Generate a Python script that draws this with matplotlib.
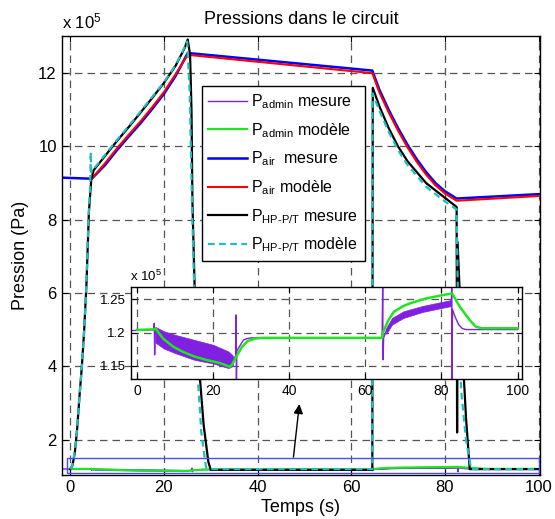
import matplotlib
matplotlib.use("Agg")
import matplotlib.pyplot as plt
from matplotlib.patches import Rectangle

plt.rcParams["font.family"] = ["Liberation Sans", "DejaVu Sans"]
plt.rcParams["mathtext.fontset"] = "custom"
plt.rcParams["mathtext.rm"] = "Liberation Sans"
plt.rcParams["mathtext.it"] = "Liberation Sans"

# --- values (pressures in 1e5 Pa, time in s) ---
t_adm_mes = [-1.7, 4.4, 4.5, 4.6, 4.7, 4.8, 25.2, 25.9, 26.0, 26.1, 26.2, 27, 28, 29, 30,
             64.4, 64.55, 64.65, 64.8, 65.5, 67, 70, 75, 80, 82.6, 82.7, 82.8, 82.9,
             83.5, 84.5, 85.5, 86.5, 100]
p_adm_mes = [1.203, 1.204, 1.214, 1.1665, 1.206, 1.198, 1.158, 1.165, 1.2265, 1.13, 1.172, 1.18,
             1.189, 1.191, 1.192, 1.192, 1.27, 1.159, 1.192, 1.203, 1.217, 1.227, 1.2355, 1.2415,
             1.2445, 1.27, 1.13, 1.235, 1.225, 1.212, 1.206, 1.2045, 1.2045]

# noisy parts of the measured admission pressure (envelope of the band)
t_band1 = [4.8, 7, 10, 15, 20, 24, 25.2]
lo_band1 = [1.185, 1.176, 1.169, 1.159, 1.1535, 1.1465, 1.150]
hi_band1 = [1.2085, 1.202, 1.1965, 1.189, 1.1815, 1.1715, 1.165]
t_band2 = [65.5, 67, 70, 75, 80, 82.6]
lo_band2 = [1.198, 1.212, 1.222, 1.231, 1.237, 1.240]
hi_band2 = [1.207, 1.222, 1.232, 1.240, 1.246, 1.249]

t_adm_mod = [0, 5.0, 6, 7, 9.4, 12, 15, 18, 21.8, 24.3, 25.0, 26, 27.5, 29, 31, 33,
             64.4, 64.6, 66, 67.5, 70, 72, 76, 80.5, 82.8, 84.8, 87.4, 89, 90.5, 100]
p_adm_mod = [1.204, 1.205, 1.197, 1.19, 1.179, 1.171, 1.164, 1.159, 1.154, 1.1485, 1.152,
             1.163, 1.178, 1.187, 1.191, 1.192, 1.192, 1.2, 1.218, 1.2315, 1.24, 1.2445,
             1.2515, 1.2565, 1.259, 1.239, 1.219, 1.209, 1.2065, 1.2065]

t_air = [-1.8, 4.6, 7.5, 10, 12.5, 15, 17.5, 20, 22.5, 25.1, 64.5, 66, 68, 70, 72, 74, 76,
         78, 80, 82.5, 100]
p_air_mes = [9.15, 9.12, 9.5, 9.9, 10.27, 10.63, 11.02, 11.43, 11.92, 12.55, 12.07, 11.55,
             11.0, 10.5, 10.05, 9.65, 9.3, 9.0, 8.78, 8.58, 8.7]
t_air_mod = [4.6, 7.5, 10, 12.5, 15, 17.5, 20, 22.5, 25.1, 64.5, 66, 68, 70, 72, 74, 76,
             78, 80, 82.5, 100]
p_air_mod = [9.12, 9.55, 9.95, 10.32, 10.68, 11.07, 11.48, 11.97, 12.5, 12.0, 11.48, 10.93,
             10.43, 9.98, 9.58, 9.23, 8.94, 8.72, 8.52, 8.65]

t_hp_mes = [0, 0.5, 1.0, 1.5, 2.0, 2.5, 3.0, 3.5, 4.0, 4.5, 5.0, 7.5, 10, 12.5, 15, 17.5, 20,
            22.5, 24.5, 25.1, 25.6, 25.9, 26.1, 26.6, 27.5, 28.5, 29.5, 30.0, 64.5, 64.6,
            66, 68, 70, 72, 74, 76, 78, 80, 82.5, 82.6, 82.7, 83.5, 84.5, 85.3, 100]
p_hp_mes = [1.2, 1.3, 1.65, 2.3, 3.2, 4.0, 5.0, 6.3, 8.2, 9.1, 9.35, 9.75, 10.15, 10.53, 10.92,
            11.32, 11.73, 12.2, 12.7, 12.92, 12.5, 11.0, 8.5, 6.0, 4.0, 2.4, 1.4, 1.18,
            1.18, 11.6, 11.1, 10.5, 10.0, 9.6, 9.3, 9.0, 8.8, 8.6, 8.35, 2.2, 7.4, 5.0, 2.6,
            1.2, 1.2]

t_hp_mod = [0, 0.5, 1.0, 1.3, 2.0, 2.5, 3.0, 3.4, 3.9, 4.3, 4.4, 4.5, 5.0, 7.5, 10, 12.5, 15,
            17.5, 20, 22.5, 24.5, 25.0, 25.5, 26.0, 26.5, 27.2, 28.0, 29.0, 30.0, 64.5, 64.55,
            66, 68, 70, 72, 74, 76, 78, 80, 82.5, 82.7, 83.0, 83.5, 84.5, 85.6, 100]
p_hp_mod = [1.2, 1.3, 1.7, 2.0, 3.2, 4.0, 5.0, 6.0, 8.0, 9.0, 9.85, 9.3, 9.38, 9.78, 10.18,
            10.56, 10.95, 11.35, 11.75, 12.22, 12.72, 12.86, 11.5, 8.5, 6.0, 3.8, 2.2, 1.25,
            1.2, 1.2, 11.45, 10.98, 10.4, 9.9, 9.5, 9.2, 8.9, 8.7, 8.5, 8.28, 6.5, 4.6, 3.3,
            2.0, 1.2, 1.2]

zoom_box = (-0.7, 1.10, 100.0, 1.49)     # x0, y0, x1, y1 of the blue frame
arrow_tail = (47.6, 1.45)
arrow_head = (49.0, 3.05)

C_ADM_MES = "#8020E0"
C_ADM_MOD = "#1EE61E"
C_AIR_MES = "#0000FF"
C_AIR_MOD = "#FF0000"
C_HP_MES = "#000000"
C_HP_MOD = "#1FBFBF"

SCALE = 1e5


def scaled(vals):
    return [v * SCALE for v in vals]


def style_axes(ax, size):
    ax.tick_params(direction="in", top=True, right=True, labelsize=size, length=4, width=0.8)
    ax.grid(True, color="#555555", linestyle=(0, (6, 4)), linewidth=0.9)
    ax.set_axisbelow(True)
    for s in ax.spines.values():
        s.set_linewidth(1.0)


def draw_admission(ax, lw_mod):
    ax.fill_between(t_band1, scaled(lo_band1), scaled(hi_band1), color=C_ADM_MES, lw=0.5)
    ax.fill_between(t_band2, scaled(lo_band2), scaled(hi_band2), color=C_ADM_MES, lw=0.5)
    ax.plot(t_adm_mes, scaled(p_adm_mes), color=C_ADM_MES, lw=1.0,
            label=r"$\mathregular{P_{admin}}$ mesure")
    ax.plot(t_adm_mod, scaled(p_adm_mod), color=C_ADM_MOD, lw=lw_mod,
            label=r"$\mathregular{P_{admin}}$ modèle")


fig = plt.figure(figsize=(5.55, 5.19), dpi=100)
ax = fig.add_axes([0.1112, 0.0848, 0.8618, 0.8449])

draw_admission(ax, 1.6)
ax.plot(t_air, scaled(p_air_mes), color=C_AIR_MES, lw=1.8, label=r"$\mathregular{P_{air}}$  mesure")
ax.plot(t_air_mod, scaled(p_air_mod), color=C_AIR_MOD, lw=1.5, label=r"$\mathregular{P_{air}}$ modèle")
ax.plot(t_hp_mes, scaled(p_hp_mes), color=C_HP_MES, lw=1.6,
        label=r"$\mathregular{P_{HP\text{-}P/T}}$ mesure")
ax.plot(t_hp_mod, scaled(p_hp_mod), color=C_HP_MOD, lw=1.6, ls=(0, (3, 2)),
        label=r"$\mathregular{P_{HP\text{-}P/T}}$ modèle")

x0, y0, x1, y1 = zoom_box
ax.add_patch(Rectangle((x0, y0 * SCALE), x1 - x0, (y1 - y0) * SCALE, fill=False,
                       edgecolor="#4A4AFF", lw=1.0, zorder=5))
ax.annotate("", xy=(arrow_head[0], arrow_head[1] * SCALE),
            xytext=(arrow_tail[0], arrow_tail[1] * SCALE),
            arrowprops=dict(arrowstyle="-|>", color="black", lw=1.0, mutation_scale=14))

ax.set_xlim(-1.8, 100.3)
ax.set_ylim(1.04e5, 13e5)
ax.set_xticks([0, 20, 40, 60, 80, 100])
ax.set_yticks([v * SCALE for v in [2, 4, 6, 8, 10, 12]])
ax.set_yticklabels(["2", "4", "6", "8", "10", "12"])
style_axes(ax, 12)
ax.set_xlabel("Temps (s)", fontsize=13, labelpad=3)
ax.set_ylabel("Pression (Pa)", fontsize=13, labelpad=7)
ax.set_title("Pressions dans le circuit", fontsize=13, pad=9)
ax.text(0.0, 1.012, r"x 10$^{\mathregular{5}}$", transform=ax.transAxes, fontsize=12,
        ha="left", va="bottom")

ax.legend(loc="upper left", bbox_to_anchor=(0.293, 0.887), borderaxespad=0, fontsize=11.5,
          frameon=True, fancybox=False, edgecolor="black", framealpha=1, handlelength=2.4,
          labelspacing=0.62, borderpad=0.4, handletextpad=0.3)

# inset with the admission pressure
ins = fig.add_axes([0.2355, 0.2697, 0.7045, 0.1778])
draw_admission(ins, 1.8)
ins.set_xlim(-1.7, 101.1)
ins.set_ylim(1.13e5, 1.269e5)
ins.set_xticks([0, 20, 40, 60, 80, 100])
ins.set_yticks([1.15e5, 1.2e5, 1.25e5])
ins.set_yticklabels(["1.15", "1.2", "1.25"])
style_axes(ins, 10)
ins.tick_params(axis="y", labelsize=9.5)
ins.text(-0.003, 1.03, r"x 10$^{\mathregular{5}}$", transform=ins.transAxes, fontsize=9.5,
         ha="left", va="bottom")

fig.savefig("out.png", dpi=100)
